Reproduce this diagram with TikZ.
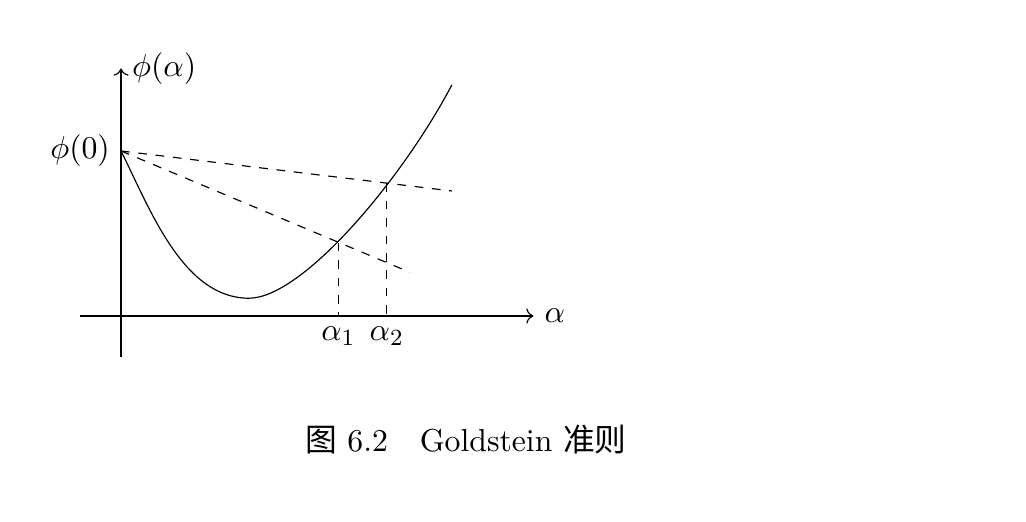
\documentclass[11pt,tikz,border=0pt]{standalone}
\usepackage{amsmath,amssymb}
\usepackage{fontspec}
\newfontfamily\cjk{Noto Sans CJK SC}
\usepackage{tikz}
\usetikzlibrary{arrows.meta}

\begin{document}
\begin{tikzpicture}

\useasboundingbox (-1.467,-2.497) rectangle (10.97,3.83);

% ---------- axes ----------
\coordinate (O) at (0,0);
\draw[->] (-0.5,0) -- (5,0) node[right] (xlab) {$\alpha$};
\draw[->] (0,-0.5) -- (0,3) node[right] (ylab) {$\phi(\alpha)$};

% ---------- points on the curve ----------
\coordinate (P0) at (0,2);
\coordinate (Pmin) at (1.55,0.215);
\coordinate (P3) at (4.01,2.8);
\coordinate (A1) at (2.634,0.888);
\coordinate (A2) at (3.221,1.608);
\coordinate (E1) at (4.01,1.515);
\coordinate (E2) at (3.5,0.53);
\node[left] (phi0) at (P0) {$\phi(0)$};

% ---------- the function ----------
\draw (P0) .. controls (0.35,1.3) and (0.75,0.215) .. (Pmin)
           .. controls (2.2,0.215) and (3.41,1.66) .. (P3);

% ---------- the two Goldstein lines ----------
\draw[dashed] (P0) -- (E1);
\draw[dashed] (P0) -- (E2);
\draw[dashed] (A1) -- (A1 |- O) node[below] (a1) {$\alpha_1$};
\draw[dashed] (A2) -- (A2 |- O) node[below] (a2) {$\alpha_2$};

% ---------- caption ----------
\node (cap) at (4.18,-1.5) {{\cjk 图} 6.2\quad Goldstein {\cjk 准则}};

\end{tikzpicture}
\end{document}
